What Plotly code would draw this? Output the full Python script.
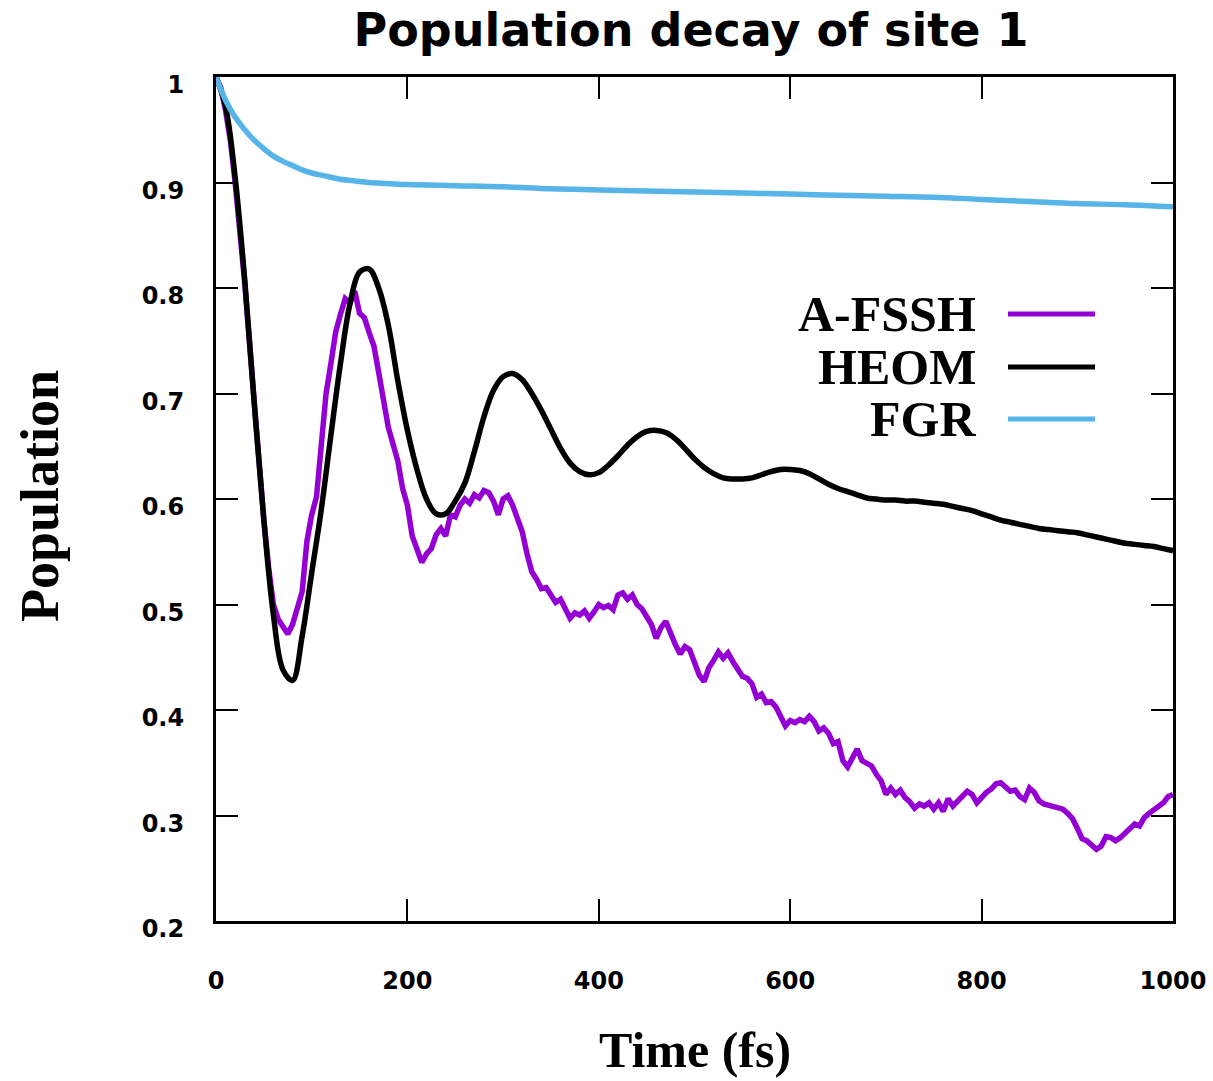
import plotly.graph_objects as go

# Time grids (fs)
t_afssh = list(range(0, 1001, 5))
t_heom = list(range(0, 1001, 10))
t_fgr = [0, 10, 20, 30, 40, 50, 60, 70, 80, 90, 100, 110, 120, 130, 140, 150,
         160, 180, 200, 250, 300, 350, 400, 450, 500, 550, 600, 650, 700,
         750, 800, 850, 900, 950, 1000]

# Site-1 population, A-FSSH (trajectory average, noisy)
pop_afssh = [
    1.000, 0.990, 0.968, 0.940, 0.900, 0.855, 0.805, 0.748, 0.690, 0.632,
    0.580, 0.535, 0.500, 0.486, 0.478, 0.472, 0.481, 0.495, 0.512, 0.560,
    0.585, 0.602, 0.650, 0.700, 0.728, 0.758, 0.775, 0.790, 0.786, 0.797,
    0.776, 0.772, 0.758, 0.745, 0.720, 0.694, 0.668, 0.652, 0.636, 0.610,
    0.594, 0.565, 0.552, 0.540, 0.548, 0.553, 0.566, 0.572, 0.565, 0.585,
    0.583, 0.594, 0.600, 0.596, 0.604, 0.601, 0.608, 0.606, 0.598, 0.585,
    0.600, 0.603, 0.594, 0.580, 0.569, 0.548, 0.531, 0.524, 0.515, 0.516,
    0.510, 0.502, 0.505, 0.496, 0.487, 0.492, 0.490, 0.494, 0.487, 0.493,
    0.500, 0.497, 0.499, 0.495, 0.509, 0.511, 0.505, 0.509, 0.500, 0.496,
    0.489, 0.481, 0.468, 0.478, 0.484, 0.472, 0.462, 0.453, 0.460, 0.457,
    0.445, 0.433, 0.427, 0.440, 0.447, 0.455, 0.449, 0.454, 0.446, 0.440,
    0.432, 0.430, 0.425, 0.412, 0.415, 0.407, 0.408, 0.403, 0.395, 0.385,
    0.390, 0.388, 0.391, 0.389, 0.394, 0.389, 0.380, 0.383, 0.378, 0.368,
    0.370, 0.352, 0.346, 0.356, 0.363, 0.352, 0.350, 0.347, 0.339, 0.333,
    0.320, 0.326, 0.320, 0.324, 0.317, 0.313, 0.307, 0.311, 0.309, 0.312,
    0.306, 0.312, 0.304, 0.316, 0.309, 0.314, 0.318, 0.323, 0.320, 0.312,
    0.317, 0.322, 0.325, 0.330, 0.331, 0.327, 0.323, 0.324, 0.318, 0.315,
    0.326, 0.322, 0.314, 0.311, 0.310, 0.309, 0.308, 0.306, 0.302, 0.297,
    0.288, 0.278, 0.276, 0.272, 0.268, 0.271, 0.280, 0.279, 0.276, 0.279,
    0.283, 0.287, 0.292, 0.290, 0.298, 0.302, 0.305, 0.309, 0.312, 0.318,
    0.320,
]

# Site-1 population, HEOM (numerically exact reference)
pop_heom = [
    1.000, 0.972, 0.905, 0.808, 0.690, 0.580, 0.490, 0.438, 0.428, 0.470,
    0.530, 0.590, 0.660, 0.728, 0.785, 0.815, 0.818, 0.800, 0.765, 0.712,
    0.665, 0.628, 0.600, 0.586, 0.586, 0.598, 0.615, 0.645, 0.678, 0.703,
    0.716, 0.719, 0.713, 0.700, 0.684, 0.666, 0.648, 0.634, 0.626, 0.623,
    0.625, 0.632, 0.641, 0.651, 0.659, 0.664, 0.665, 0.663, 0.657, 0.648,
    0.638, 0.630, 0.624, 0.620, 0.619, 0.619, 0.620, 0.623, 0.626, 0.628,
    0.628, 0.627, 0.624, 0.619, 0.614, 0.610, 0.607, 0.604, 0.601, 0.600,
    0.599, 0.599, 0.598, 0.598, 0.597, 0.596, 0.595, 0.593, 0.591, 0.589,
    0.586, 0.583, 0.580, 0.578, 0.576, 0.574, 0.572, 0.571, 0.570, 0.569,
    0.568, 0.566, 0.564, 0.562, 0.560, 0.558, 0.557, 0.556, 0.555, 0.553,
    0.551,
]

# Site-1 population, Fermi golden rule
pop_fgr = [
    1.000, 0.978, 0.962, 0.950, 0.940, 0.932, 0.925, 0.920, 0.916, 0.912,
    0.909, 0.907, 0.905, 0.903, 0.902, 0.901, 0.900, 0.899, 0.898, 0.897,
    0.896, 0.894, 0.893, 0.892, 0.891, 0.890, 0.889, 0.888, 0.887, 0.886,
    0.884, 0.882, 0.880, 0.879, 0.877,
]

series_names = ["A-FSSH", "HEOM", "FGR"]
series_colors = ["#9400D3", "#000000", "#56B4E9"]

x_ticks = [0, 200, 400, 600, 800, 1000]
x_ticktext = ["0", "200", "400", "600", "800", "1000"]
y_ticks = [0.2, 0.3, 0.4, 0.5, 0.6, 0.7, 0.8, 0.9, 1.0]
y_ticktext = ["0.2", "0.3", "0.4", "0.5", "0.6", "0.7", "0.8", "0.9", "1"]

fig = go.Figure()
fig.add_trace(go.Scatter(x=t_afssh, y=pop_afssh, mode="lines", name=series_names[0],
                         line=dict(color=series_colors[0], width=5.5), showlegend=False))
fig.add_trace(go.Scatter(x=t_heom, y=pop_heom, mode="lines", name=series_names[1],
                         line=dict(color=series_colors[1], width=5.5, shape="spline"),
                         showlegend=False))
fig.add_trace(go.Scatter(x=t_fgr, y=pop_fgr, mode="lines", name=series_names[2],
                         line=dict(color=series_colors[2], width=5.5, shape="spline"),
                         showlegend=False))

W, H = 1213, 1081
ml, mr, mt, mb = 216, 40, 77, 160
pw, ph = W - ml - mr, H - mt - mb

def px_x(px):
    return (px - ml) / pw

def px_y(py):
    return (H - mb - py) / ph

heavy = "DejaVu Sans, Liberation Sans, Arial, sans-serif"
serif = "Liberation Serif, Times New Roman, serif"
tick_font = dict(family=heavy, size=24, color="black", weight="bold")

axis_common = dict(
    showline=True, linecolor="black", linewidth=3, mirror="ticks",
    ticks="inside", ticklen=22, tickwidth=2, tickcolor="black",
    showgrid=False, zeroline=False, tickfont=tick_font,
)

fig.update_xaxes(range=[0, 1000], tickvals=x_ticks, ticktext=x_ticktext,
                 ticklabelstandoff=36, **axis_common)
fig.update_yaxes(range=[0.2, 1.0], tickvals=y_ticks, ticktext=y_ticktext,
                 ticklabelstandoff=24, ticklabelshift=8, **axis_common)

annotations = [
    dict(text="Time (fs)", x=0.5, y=px_y(1050), xref="paper", yref="paper",
         showarrow=False, xanchor="center", yanchor="middle",
         font=dict(family=serif, size=50, color="black", weight="bold")),
    dict(text="Population", x=px_x(40), y=px_y(496), xref="paper", yref="paper",
         showarrow=False, xanchor="center", yanchor="middle", textangle=-90,
         font=dict(family=serif, size=54, color="black", weight="bold")),
]
shapes = []
legend_rows = [314, 367, 419]
for name, color, row in zip(series_names, series_colors, legend_rows):
    annotations.append(dict(text=name, x=px_x(978), y=px_y(row), xref="paper", yref="paper",
                            showarrow=False, xanchor="right", yanchor="middle",
                            font=dict(family=serif, size=50, color="black", weight="bold")))
    shapes.append(dict(type="line", xref="paper", yref="paper",
                       x0=px_x(1008), x1=px_x(1095), y0=px_y(row), y1=px_y(row),
                       line=dict(color=color, width=5)))

fig.update_layout(
    width=W, height=H,
    margin=dict(l=ml, r=mr, t=mt, b=mb, autoexpand=False),
    paper_bgcolor="white", plot_bgcolor="white",
    title=dict(text="Population decay of site 1", x=691 / W, xanchor="center",
               y=1 - 30 / H, yanchor="middle", yref="container",
               font=dict(family=heavy, size=46, color="black", weight="bold")),
    annotations=annotations, shapes=shapes,
)

fig.write_html("out.html")
